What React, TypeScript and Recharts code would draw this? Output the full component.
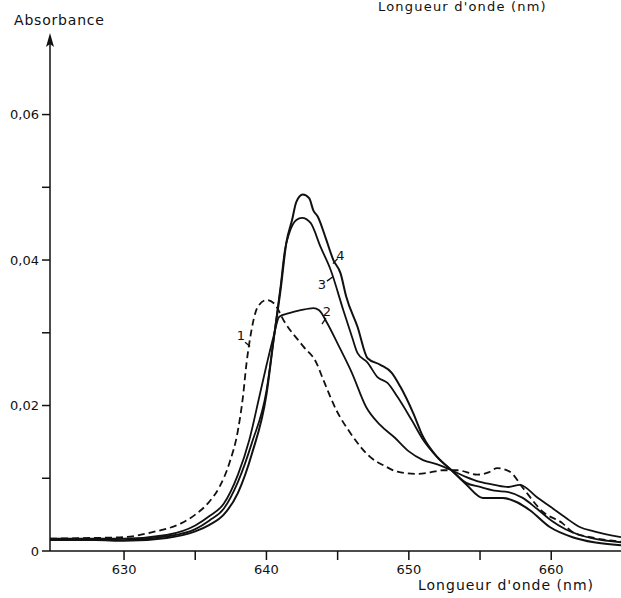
import { LineChart, Line, XAxis, YAxis, ReferenceDot, ReferenceLine } from "recharts";

// absorbance spectra, wavelength in nm
const wl1 = [624.8, 628, 630, 632, 634, 635, 636, 636.7, 637.4, 638, 638.35, 638.6, 638.8, 639.4, 640, 640.5, 641.3, 642.6, 643.5, 644, 644.9, 645.9, 647.3, 648.3, 649.2, 650.6, 651.5, 652.4, 653.4, 654.8, 655.6, 656.2, 657.1, 658, 659.4, 660.8, 661.5, 663, 664.9];
const ab1 = [0.0017, 0.0018, 0.0019, 0.0026, 0.0038, 0.005, 0.0068, 0.0088, 0.0121, 0.0166, 0.0212, 0.0258, 0.0286, 0.0336, 0.0345, 0.0341, 0.0314, 0.0281, 0.0259, 0.0235, 0.0194, 0.0162, 0.0129, 0.0117, 0.0109, 0.0106, 0.0108, 0.0111, 0.0111, 0.0105, 0.0108, 0.0114, 0.0109, 0.0087, 0.0054, 0.0038, 0.0026, 0.0018, 0.0013];

const wl2 = [624.8, 628, 630, 633, 635, 636, 637, 638, 638.8, 639.5, 640, 640.5, 640.9, 641.6, 642.4, 643.3, 643.7, 644.3, 645, 646, 647, 648, 649, 650, 651, 652, 653, 654, 655, 656, 657, 657.8, 659, 660, 661, 662, 663, 664.9];
const ab2 = [0.0017, 0.0017, 0.0017, 0.0022, 0.0035, 0.0048, 0.0065, 0.0105, 0.0153, 0.0212, 0.0255, 0.0295, 0.0322, 0.0327, 0.0331, 0.0334, 0.0331, 0.0312, 0.0285, 0.0245, 0.0198, 0.0173, 0.0156, 0.0137, 0.0125, 0.0119, 0.0111, 0.0102, 0.0095, 0.0091, 0.0088, 0.0091, 0.0074, 0.006, 0.0046, 0.0033, 0.0027, 0.0019];

const wl3 = [624.8, 628, 630, 633, 635, 636, 637, 638, 639, 640, 640.5, 641, 641.3, 641.6, 642.1, 642.5, 643.1, 643.8, 644.5, 645.4, 646, 646.4, 647.1, 647.8, 648.5, 649.2, 650.2, 651, 652, 653, 654, 655, 656, 657, 658, 659, 660, 661, 662, 663, 664.9];
const ab3 = [0.0016, 0.0016, 0.0015, 0.002, 0.003, 0.0042, 0.0058, 0.0095, 0.015, 0.022, 0.029, 0.0365, 0.0414, 0.0437, 0.0455, 0.0458, 0.0451, 0.0418, 0.0387, 0.0331, 0.0295, 0.0272, 0.0259, 0.0239, 0.0231, 0.0212, 0.018, 0.0153, 0.0129, 0.0111, 0.0094, 0.0088, 0.0083, 0.0081, 0.0073, 0.0058, 0.0042, 0.003, 0.0022, 0.0017, 0.0012];

const wl4 = [624.8, 628, 630, 633, 635, 636, 637, 638, 639, 640, 640.5, 641, 641.4, 641.8, 642.1, 642.55, 643, 643.3, 643.6, 644.2, 644.7, 645.2, 645.6, 646.4, 647.1, 648, 648.8, 649.4, 650.3, 651, 652, 653, 654, 655.2, 656.6, 657.6, 658.5, 659.9, 661.5, 663, 664.9];
const ab4 = [0.0015, 0.0015, 0.0014, 0.0018, 0.0027, 0.0036, 0.005, 0.008, 0.0135, 0.0215, 0.029, 0.036, 0.0424, 0.0455, 0.048, 0.049, 0.0485, 0.0468, 0.046, 0.0428, 0.04, 0.0382, 0.035, 0.0308, 0.0265, 0.0256, 0.0245, 0.0226, 0.019, 0.0157, 0.0129, 0.0111, 0.0092, 0.0073, 0.0073, 0.0067, 0.0056, 0.0033, 0.0019, 0.0012, 0.0008];

const xTicks = [630, 635, 640, 645, 650, 655, 660];
const yTicks = [0, 0.01, 0.02, 0.03, 0.04, 0.05, 0.06];
const yLabels = ["0", "", "0,02", "", "0,04", "", "0,06"];

// curve numbers: label position, leader start, leader end
const curveLabels = [
  { name: "1", at: [638.2, 0.0296], from: [638.5, 0.0287], to: [638.85, 0.0281] },
  { name: "2", at: [644.25, 0.033], from: [644.18, 0.032], to: [643.9, 0.0312] },
  { name: "3", at: [643.9, 0.0367], from: [644.25, 0.0371], to: [644.67, 0.0377] },
  { name: "4", at: [645.2, 0.0407], from: [645.0, 0.0402], to: [644.67, 0.0395] },
];

const toPoints = (wl: number[], ab: number[]) => wl.map((x, i) => ({ x, y: ab[i] }));

const INK = "#111";
const FONT = '"DejaVu Sans", sans-serif';

export default function App() {
  return (
    <div style={{ position: "absolute", left: 0, top: 0, width: 621, height: 598, background: "#fff", overflow: "hidden", fontFamily: FONT, color: INK }}>
      <LineChart width={621} height={598} margin={{ top: 36, right: 0, left: 0, bottom: 0 }}>
        <XAxis
          type="number"
          dataKey="x"
          domain={[624.8, 664.9]}
          allowDataOverflow
          ticks={xTicks}
          interval={0}
          tickFormatter={(v) => (v % 10 === 0 ? String(v) : "")}
          height={47}
          stroke={INK}
          strokeWidth={1.5}
          tickSize={9}
          tickMargin={5}
          tick={{ fill: INK, fontSize: 13, fontFamily: FONT }}
        />
        <YAxis
          type="number"
          dataKey="y"
          domain={[0, 0.0708]}
          allowDataOverflow
          ticks={yTicks}
          interval={0}
          tickFormatter={(v, i) => yLabels[i] ?? ""}
          width={50}
          stroke={INK}
          strokeWidth={1.5}
          tickSize={8}
          tickMargin={3}
          tick={{ fill: INK, fontSize: 13, fontFamily: FONT }}
        />
        <Line data={toPoints(wl1, ab1)} dataKey="y" type="monotone" stroke={INK} strokeWidth={1.8} strokeDasharray="7 4" dot={false} isAnimationActive={false} />
        <Line data={toPoints(wl2, ab2)} dataKey="y" type="monotone" stroke={INK} strokeWidth={1.8} dot={false} isAnimationActive={false} />
        <Line data={toPoints(wl3, ab3)} dataKey="y" type="monotone" stroke={INK} strokeWidth={1.8} dot={false} isAnimationActive={false} />
        <Line data={toPoints(wl4, ab4)} dataKey="y" type="monotone" stroke={INK} strokeWidth={2} dot={false} isAnimationActive={false} />
        {curveLabels.map((c) => (
          <ReferenceLine
            key={"l" + c.name}
            segment={[{ x: c.from[0], y: c.from[1] }, { x: c.to[0], y: c.to[1] }]}
            stroke={INK}
            strokeWidth={1.3}
            ifOverflow="visible"
          />
        ))}
        {curveLabels.map((c) => (
          <ReferenceDot
            key={"d" + c.name}
            x={c.at[0]}
            y={c.at[1]}
            r={1}
            fill="none"
            stroke="none"
            ifOverflow="visible"
            label={{ value: c.name, position: "center", fill: INK, fontSize: 13, fontFamily: FONT }}
          />
        ))}
      </LineChart>
      <svg width={621} height={598} style={{ position: "absolute", left: 0, top: 0, pointerEvents: "none" }}>
        <polygon points="50,33 46,47 50,44 54,47" fill={INK} />
      </svg>
      <div style={{ position: "absolute", left: 14, top: 12, fontSize: 14, letterSpacing: 0.8, lineHeight: "16px" }}>Absorbance</div>
      <div style={{ position: "absolute", left: 378, top: 0, fontSize: 13, letterSpacing: 1.2, lineHeight: "14px" }}>Longueur d'onde (nm)</div>
      <div style={{ position: "absolute", left: 418, top: 577, fontSize: 14, letterSpacing: 1, lineHeight: "16px" }}>Longueur d'onde (nm)</div>
    </div>
  );
}
